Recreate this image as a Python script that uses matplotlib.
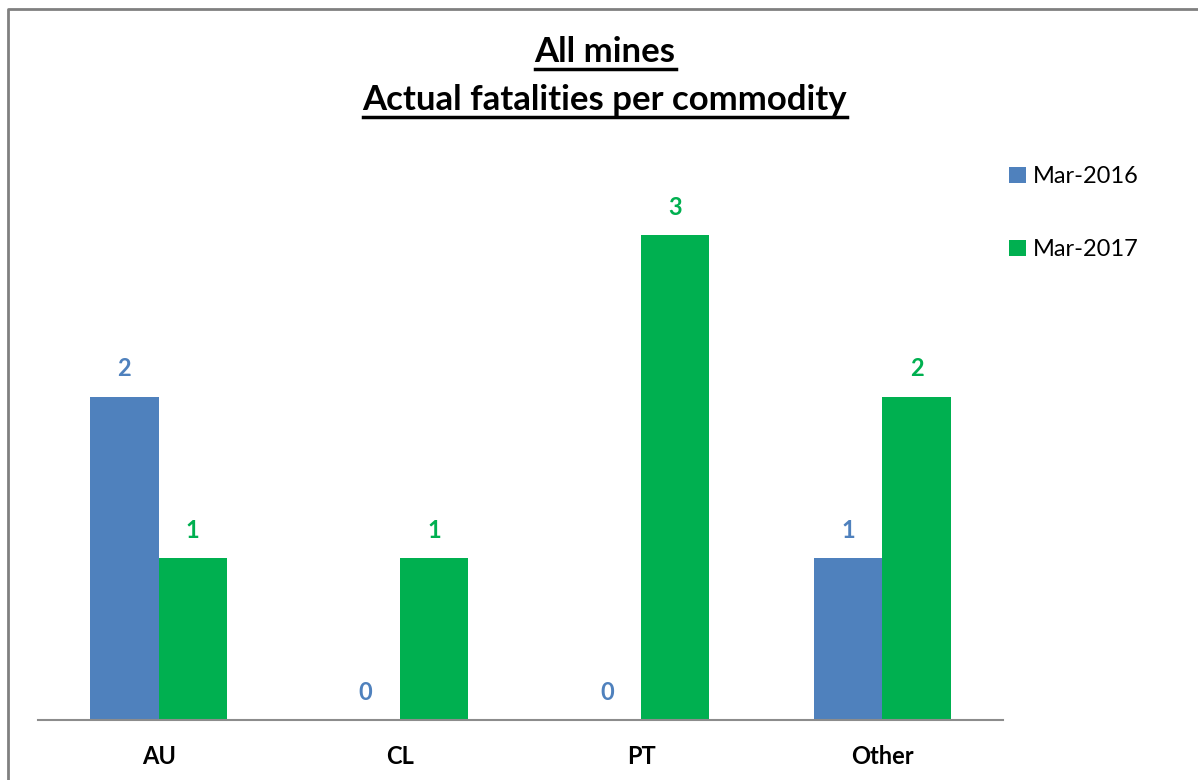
import matplotlib.pyplot as plt
import numpy as np
from matplotlib.lines import Line2D

categories = ['AU', 'CL', 'PT', 'Other']
mar_2016 = [2, 0, 0, 1]
mar_2017 = [1, 1, 3, 2]
series_names = ['Mar-2016', 'Mar-2017']
title_lines = ['All mines', 'Actual fatalities per commodity']

blue = '#4F81BD'
green = '#00B050'
plt.rcParams['font.family'] = ['Lato', 'DejaVu Sans']

fig = plt.figure(figsize=(11.98, 7.80), dpi=100)
ax = fig.add_axes([38 / 1198, 60 / 780, (1003 - 38) / 1198, (720 - 154) / 780])

x = np.arange(len(categories))
w = 0.283
b1 = ax.bar(x - w / 2, mar_2016, w, color=blue, label=series_names[0])
b2 = ax.bar(x + w / 2, mar_2017, w, color=green, label=series_names[1])

for bars, vals, col in [(b1, mar_2016, blue), (b2, mar_2017, green)]:
    for bar, v in zip(bars, vals):
        ax.annotate(str(v), (bar.get_x() + bar.get_width() / 2, v),
                    xytext=(0, 20), textcoords='offset points',
                    ha='center', va='center', fontsize=17,
                    fontweight='bold', color=col)

ax.set_xlim(-0.5, len(categories) - 0.5)
ax.set_ylim(0, 3.5)
ax.set_yticks([])
ax.set_xticks(x)
ax.set_xticklabels(categories, fontsize=17, fontweight='bold')
ax.tick_params(axis='x', length=0, pad=18)
for s in ['top', 'right', 'left']:
    ax.spines[s].set_visible(False)
ax.spines['bottom'].set_color('#8c8c8c')
ax.spines['bottom'].set_linewidth(1.5)

leg = fig.legend(loc='upper left', bbox_to_anchor=(988 / 1198, 1 - 145 / 780),
                 frameon=False, fontsize=17, handlelength=0.7, handleheight=0.7,
                 handletextpad=0.3, labelspacing=2.2)

# title with underlines
fig.canvas.draw()
renderer = fig.canvas.get_renderer()
for i, (line, yb) in enumerate(zip(title_lines, [52, 100])):
    t = fig.text(605 / 1198, 1 - yb / 780, line, ha='center', va='center',
                 fontsize=25, fontweight='bold')
    bb = t.get_window_extent(renderer)
    uy = (bb.y0 - 1) / 780
    fig.add_artist(Line2D([bb.x0 / 1198, bb.x1 / 1198], [uy, uy],
                          transform=fig.transFigure, color='black', lw=2.5))

# outer frame
fig.add_artist(Line2D([8 / 1198, 8 / 1198, 1], [0, 1 - 9 / 780, 1 - 9 / 780],
                      transform=fig.transFigure, color='#808080', lw=2))

fig.savefig('out.png', dpi=100)
